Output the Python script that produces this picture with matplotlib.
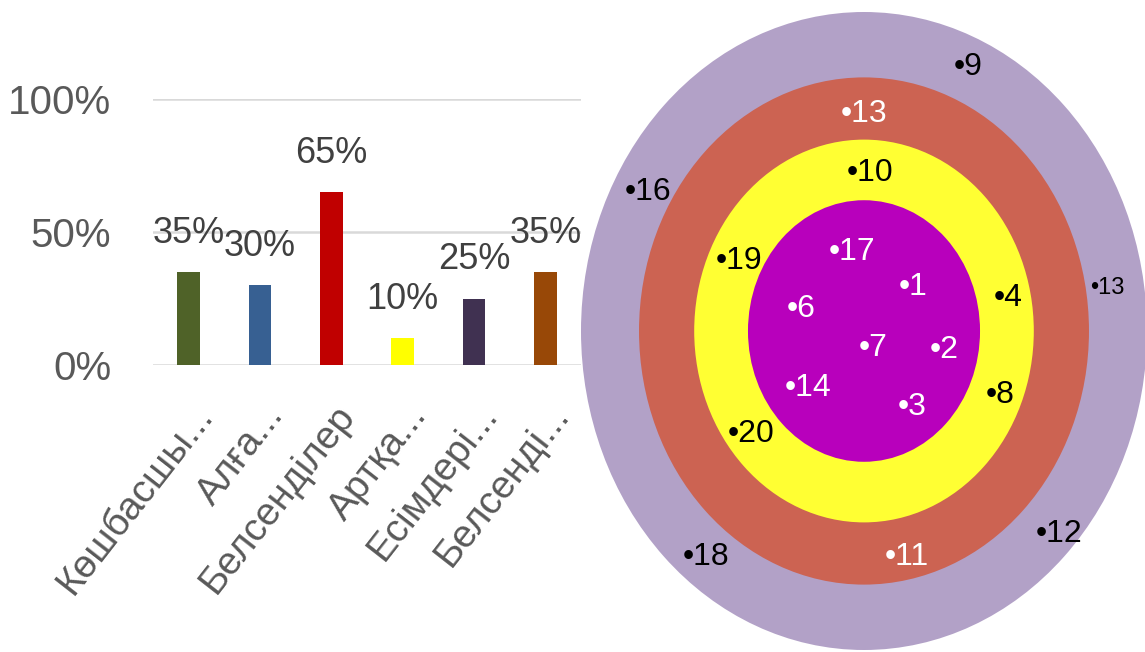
import matplotlib.pyplot as plt
from matplotlib import font_manager
from matplotlib.patches import Ellipse

# font: narrow if we have it
names = {f.name for f in font_manager.fontManager.ttflist}
fam = "Liberation Sans Narrow" if "Liberation Sans Narrow" in names else "Liberation Sans"
plt.rcParams["font.family"] = [fam, "DejaVu Sans"]

## BAR DATA ===================================
categories = ["Көшбасшы...", "Алға...", "Белсенділер", "Артқа...", "Есімдері...", "Белсенді..."]
values = [0.35, 0.30, 0.65, 0.10, 0.25, 0.35]
bar_colors = ["#4F6228", "#376092", "#C00000", "#FFFF00", "#403151", "#984807"]
y_ticks = [0, 0.5, 1.0]
y_tick_labels = ["0%", "50%", "100%"]

## TARGET DATA ================================
ring_radius = [1.0, 0.795, 0.60, 0.41]
ring_colors = ["#B2A1C7", "#CC6352", "#FFFF33", "#B800BC"]

point_labels = ["•9", "•16", "•13", "•18", "•12",
                "•13", "•11",
                "•10", "•19", "•4", "•8", "•20",
                "•17", "•1", "•6", "•7", "•2", "•14", "•3"]
point_x = [0.367, -0.762, 0.861, -0.559, 0.690,
           0.0, 0.153,
           0.021, -0.441, 0.509, 0.480, -0.399,
           -0.043, 0.174, -0.221, 0.032, 0.285, -0.199, 0.171]
point_y = [0.828, 0.436, 0.135, -0.708, -0.636,
           0.680, -0.708,
           0.495, 0.219, 0.103, -0.201, -0.323,
           0.248, 0.138, 0.069, -0.053, -0.060, -0.179, -0.238]
point_ring = [0, 0, 0, 0, 0,
              1, 1,
              2, 2, 2, 2, 2,
              3, 3, 3, 3, 3, 3, 3]
text_color_by_ring = ["black", "white", "black", "white"]

fig = plt.figure(figsize=(11.45, 6.52), dpi=100)

### GRAFICO DE BARRAS ====================================================
ax = fig.add_axes([153 / 1145, 287 / 652, 428 / 1145, 266 / 652])
x = range(len(categories))
ax.bar(x, values, width=0.32, color=bar_colors)

ax.set_xlim(-0.5, len(categories) - 0.5)
ax.set_ylim(0, 1.0)
ax.set_yticks(y_ticks)
ax.set_yticklabels(y_tick_labels, fontsize=29, color="#595959")
ax.tick_params(axis="y", length=0, pad=30)
ax.set_xticks([])
for s in ax.spines.values():
    s.set_visible(False)
for t in y_ticks:
    ax.axhline(t, color="#D9D9D9", lw=1.8, zorder=0)

for i, v in enumerate(values):
    ax.annotate(f"{int(round(v * 100))}%", xy=(i, v), xytext=(0, 21),
                textcoords="offset points", ha="center", va="baseline",
                fontsize=26, color="#404040")

for i, c in enumerate(categories):
    ax.annotate(c, xy=(i, 0), xycoords=("data", "axes fraction"),
                xytext=(18, -36), textcoords="offset points",
                rotation=52, rotation_mode="anchor", ha="right", va="baseline",
                fontsize=28, color="#595959")

### DIANA ====================================================
ax2 = fig.add_axes([581 / 1145, 2 / 652, 566 / 1145, 638 / 652])
ax2.set_xlim(-1, 1)
ax2.set_ylim(-1, 1)
ax2.axis("off")
for r, col in zip(ring_radius, ring_colors):
    ax2.add_patch(Ellipse((0, 0), 2 * r, 2 * r, color=col, lw=0))

for lab, px, py, ring in zip(point_labels, point_x, point_y, point_ring):
    fs = 17 if (lab == "•13" and ring == 0) else 23
    ax2.text(px, py, lab, ha="center", va="center", fontsize=fs,
             color=text_color_by_ring[ring])

plt.savefig("out.png", dpi=100)
